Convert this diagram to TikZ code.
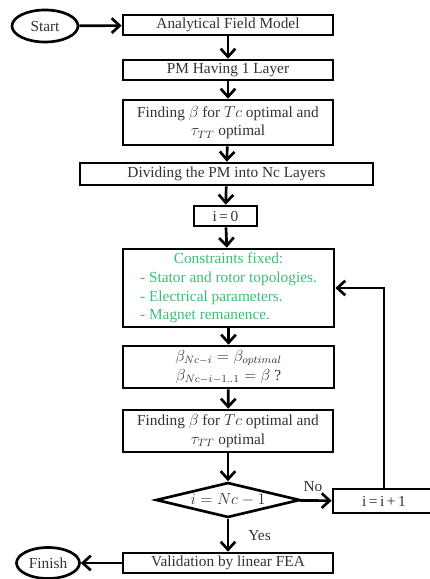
\documentclass[tikz,border=0pt]{standalone}
\usepackage{amsmath}
\usepackage{fontspec}
\setmainfont{Liberation Serif}
\usetikzlibrary{shapes.geometric,arrows.meta}

\definecolor{constgreen}{RGB}{60,190,120}
\definecolor{inkgray}{RGB}{50,50,50}

\tikzset{
  box/.style={draw, line width=2pt, rectangle, inner sep=0pt, text=inkgray, align=center},
  term/.style={draw, line width=2pt, ellipse, inner sep=0pt, text=inkgray},
  decision/.style={draw, line width=2pt, diamond, aspect=4.1, inner sep=0pt, text=inkgray},
  flow/.style={line width=2pt, -{Straight Barb[length=6pt,width=11pt,line width=2pt]}}
}

\begin{document}
\begin{tikzpicture}[x=0.75pt, y=-0.75pt, font=\fontsize{11.5}{14}\selectfont]
		\useasboundingbox (0,0) rectangle (429,579);

		\node[term, minimum width=49.5pt, minimum height=24pt] (start) at (45,26) {Start};
		\node[box, minimum width=157.5pt, minimum height=15pt] (afm) at (228,25) {Analytical Field Model};
		\node[box, minimum width=157.5pt, minimum height=15pt] (pm1) at (228,70) {PM Having 1 Layer};
		\node[box, minimum width=157.5pt, minimum height=33.75pt] (find1) at (228,122.5)
			{Finding $\beta$ for $Tc$ optimal and\\ $\tau_{TT}$ optimal};
		\node[box, minimum width=219.75pt, minimum height=16.5pt] (divide) at (226.5,174) {Dividing the PM into Nc Layers};
		\node[box, minimum width=47.25pt, minimum height=15pt] (izero) at (225.5,216) {i\,=\,0};
		\node[box, minimum width=158.25pt, minimum height=58.5pt, text=constgreen] (cons) at (228.5,288)
			{\begin{tabular}{@{}l@{}}\multicolumn{1}{c}{Constraints fixed:}\\
			- Stator and rotor topologies.\\
			- Electrical parameters.\\
			- Magnet remanence.\end{tabular}};
		\node[box, minimum width=158.25pt, minimum height=31.5pt] (beta) at (228.5,367)
			{$\beta_{Nc-i}=\beta_{optimal}$\\ $\beta_{Nc-i-1..1}=\beta$ ?};
		\node[box, minimum width=157.5pt, minimum height=31.5pt] (find2) at (228,431)
			{Finding $\beta$ for $Tc$ optimal and\\ $\tau_{TT}$ optimal};
		\node[decision, minimum width=108pt, minimum height=26.25pt] (dec) at (228,500) {$i=Nc-1$};
		\node[box, minimum width=76.5pt, minimum height=18pt] (inc) at (384,501) {i\,=\,i\,+\,1};
		\node[box, minimum width=157.5pt, minimum height=15pt] (valid) at (228,563) {Validation by linear FEA};
		\node[term, minimum width=47.25pt, minimum height=23.25pt] (finish) at (48,563) {Finish};

		\draw[flow] (start) -- (afm);
		\draw[flow] (afm) -- (pm1);
		\draw[flow] (pm1) -- (find1);
		\draw[flow] (find1) -- (divide);
		\draw[flow] (divide) -- (izero);
		\draw[flow] (izero) -- (cons);
		\draw[flow] (cons) -- (beta);
		\draw[flow] (beta) -- (find2);
		\draw[flow] (find2) -- (dec);
		\draw[flow] (dec) -- node[above, text=inkgray, xshift=-2pt, yshift=2pt] {No} (inc);
		\draw[flow] (dec) -- node[right, text=inkgray, xshift=11pt] {Yes} (valid);
		\draw[flow] (valid) -- (finish);
		\draw[flow] (inc.north) |- (cons.east);
	\end{tikzpicture}
\end{document}
